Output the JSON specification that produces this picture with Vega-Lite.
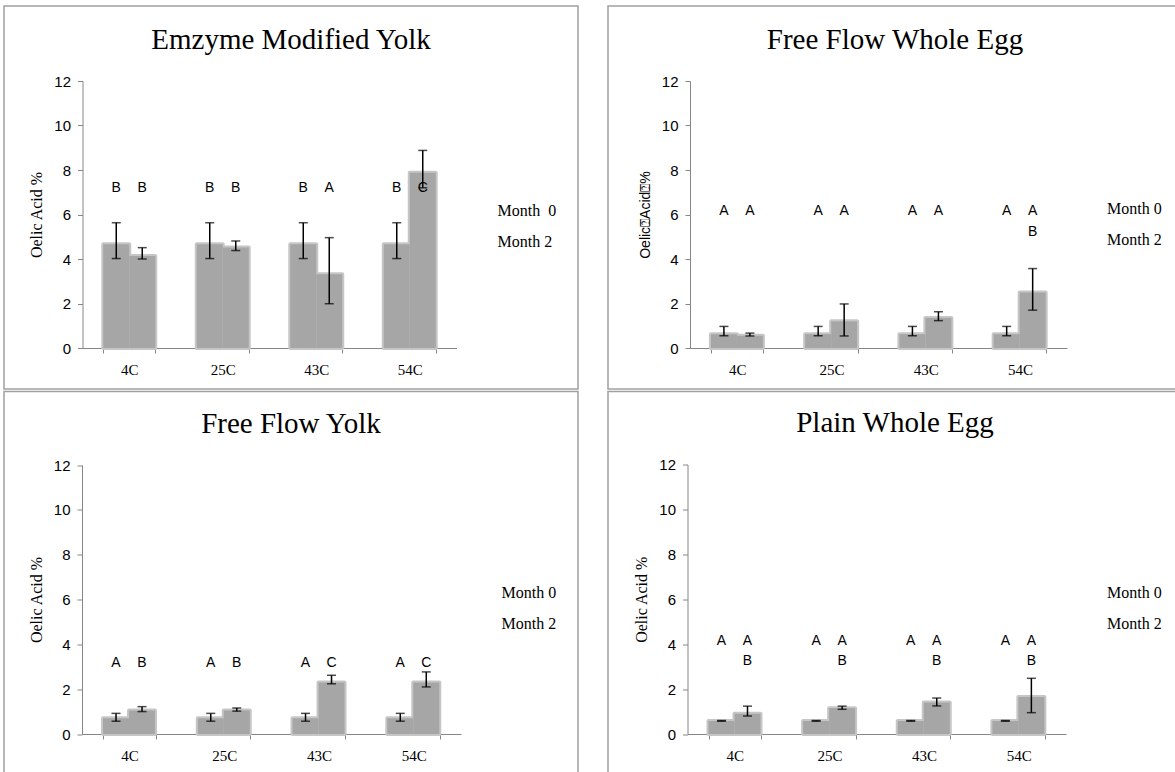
{
  "$schema": "https://vega.github.io/schema/vega-lite/v6.json",
  "padding": {"left": 3, "top": 5, "right": 0, "bottom": 0},
  "background": "white",
  "bounds": "flush",
  "columns": 2,
  "spacing": {"column": 30, "row": 2.5},
  "config": {
    "view": {"stroke": "#a0a0a0", "strokeWidth": 1.5, "fill": "white"},
    "axis": {"grid": false, "domainColor": "#868686", "tickColor": "#868686", "tickSize": 5, "labelColor": "black", "titleColor": "black", "titleFontWeight": "normal", "zindex": 1},
    "axisY": {"labelFont": "Liberation Sans", "labelFontSize": 15, "labelPadding": 7, "titleFont": "Liberation Serif", "titleFontSize": 16, "titlePadding": 9},
    "axisX": {"title": null, "tickBand": "extent", "labelAngle": 0, "labelFont": "Liberation Serif", "labelFontSize": 15, "labelPadding": 9},
    "title": {"font": "Liberation Serif", "fontSize": 29, "fontWeight": "normal", "color": "black", "baseline": "alphabetic", "anchor": "middle", "frame": "group"},
    "legend": {"orient": "none", "title": null, "symbolOpacity": 0, "symbolSize": 1, "symbolStrokeWidth": 0, "labelFont": "Liberation Serif", "labelFontSize": 16, "labelColor": "black", "rowPadding": 15, "labelOffset": 0, "padding": 0},
    "tick": {"color": "black", "size": 9, "thickness": 1.5},
    "rule": {"color": "black", "strokeWidth": 1.5},
    "text": {"font": "Liberation Sans", "fontSize": 14, "baseline": "middle", "align": "center", "color": "black"}
  },
  "resolve": {"scale": {"color": "independent", "x": "independent", "y": "independent"}, "legend": {"color": "independent"}},
  "datasets": {
    "bars": [
      {"panel": "EMY", "temp": "4C", "month": "Month 0", "value": 4.66, "low": 4.02, "high": 5.63},
      {"panel": "EMY", "temp": "4C", "month": "Month 2", "value": 4.13, "low": 4.0, "high": 4.51},
      {"panel": "EMY", "temp": "25C", "month": "Month 0", "value": 4.66, "low": 4.02, "high": 5.63},
      {"panel": "EMY", "temp": "25C", "month": "Month 2", "value": 4.52, "low": 4.38, "high": 4.81},
      {"panel": "EMY", "temp": "43C", "month": "Month 0", "value": 4.66, "low": 4.02, "high": 5.63},
      {"panel": "EMY", "temp": "43C", "month": "Month 2", "value": 3.31, "low": 1.99, "high": 4.96},
      {"panel": "EMY", "temp": "54C", "month": "Month 0", "value": 4.66, "low": 4.02, "high": 5.63},
      {"panel": "EMY", "temp": "54C", "month": "Month 2", "value": 7.88, "low": 7.2, "high": 8.88},
      {"panel": "FFWE", "temp": "4C", "month": "Month 0", "value": 0.62, "low": 0.55, "high": 0.97},
      {"panel": "FFWE", "temp": "4C", "month": "Month 2", "value": 0.55, "low": 0.54, "high": 0.67},
      {"panel": "FFWE", "temp": "25C", "month": "Month 0", "value": 0.62, "low": 0.55, "high": 0.97},
      {"panel": "FFWE", "temp": "25C", "month": "Month 2", "value": 1.2, "low": 0.54, "high": 1.98},
      {"panel": "FFWE", "temp": "43C", "month": "Month 0", "value": 0.62, "low": 0.55, "high": 0.97},
      {"panel": "FFWE", "temp": "43C", "month": "Month 2", "value": 1.35, "low": 1.23, "high": 1.63},
      {"panel": "FFWE", "temp": "54C", "month": "Month 0", "value": 0.62, "low": 0.55, "high": 0.97},
      {"panel": "FFWE", "temp": "54C", "month": "Month 2", "value": 2.5, "low": 1.7, "high": 3.57},
      {"panel": "FFY", "temp": "4C", "month": "Month 0", "value": 0.7, "low": 0.57, "high": 0.92},
      {"panel": "FFY", "temp": "4C", "month": "Month 2", "value": 1.05, "low": 1.0, "high": 1.22},
      {"panel": "FFY", "temp": "25C", "month": "Month 0", "value": 0.7, "low": 0.57, "high": 0.92},
      {"panel": "FFY", "temp": "25C", "month": "Month 2", "value": 1.05, "low": 1.02, "high": 1.16},
      {"panel": "FFY", "temp": "43C", "month": "Month 0", "value": 0.7, "low": 0.57, "high": 0.92},
      {"panel": "FFY", "temp": "43C", "month": "Month 2", "value": 2.3, "low": 2.24, "high": 2.62},
      {"panel": "FFY", "temp": "54C", "month": "Month 0", "value": 0.7, "low": 0.57, "high": 0.92},
      {"panel": "FFY", "temp": "54C", "month": "Month 2", "value": 2.3, "low": 2.1, "high": 2.77},
      {"panel": "PWE", "temp": "4C", "month": "Month 0", "value": 0.58, "low": 0.57, "high": 0.6},
      {"panel": "PWE", "temp": "4C", "month": "Month 2", "value": 0.9, "low": 0.8, "high": 1.24},
      {"panel": "PWE", "temp": "25C", "month": "Month 0", "value": 0.58, "low": 0.57, "high": 0.6},
      {"panel": "PWE", "temp": "25C", "month": "Month 2", "value": 1.15, "low": 1.1, "high": 1.24},
      {"panel": "PWE", "temp": "43C", "month": "Month 0", "value": 0.58, "low": 0.57, "high": 0.6},
      {"panel": "PWE", "temp": "43C", "month": "Month 2", "value": 1.4, "low": 1.25, "high": 1.6},
      {"panel": "PWE", "temp": "54C", "month": "Month 0", "value": 0.58, "low": 0.57, "high": 0.6},
      {"panel": "PWE", "temp": "54C", "month": "Month 2", "value": 1.65, "low": 0.95, "high": 2.48}
    ],
    "letters": [
      {"panel": "EMY", "temp": "4C", "month": "Month 0", "letter": "B", "level": 7.2},
      {"panel": "EMY", "temp": "4C", "month": "Month 2", "letter": "B", "level": 7.2},
      {"panel": "EMY", "temp": "25C", "month": "Month 0", "letter": "B", "level": 7.2},
      {"panel": "EMY", "temp": "25C", "month": "Month 2", "letter": "B", "level": 7.2},
      {"panel": "EMY", "temp": "43C", "month": "Month 0", "letter": "B", "level": 7.2},
      {"panel": "EMY", "temp": "43C", "month": "Month 2", "letter": "A", "level": 7.2},
      {"panel": "EMY", "temp": "54C", "month": "Month 0", "letter": "B", "level": 7.2},
      {"panel": "EMY", "temp": "54C", "month": "Month 2", "letter": "C", "level": 7.2},
      {"panel": "FFWE", "temp": "4C", "month": "Month 0", "letter": "A", "level": 6.16},
      {"panel": "FFWE", "temp": "4C", "month": "Month 2", "letter": "A", "level": 6.16},
      {"panel": "FFWE", "temp": "25C", "month": "Month 0", "letter": "A", "level": 6.16},
      {"panel": "FFWE", "temp": "25C", "month": "Month 2", "letter": "A", "level": 6.16},
      {"panel": "FFWE", "temp": "43C", "month": "Month 0", "letter": "A", "level": 6.16},
      {"panel": "FFWE", "temp": "43C", "month": "Month 2", "letter": "A", "level": 6.16},
      {"panel": "FFWE", "temp": "54C", "month": "Month 0", "letter": "A", "level": 6.16},
      {"panel": "FFWE", "temp": "54C", "month": "Month 2", "letter": "A", "level": 6.16},
      {"panel": "FFWE", "temp": "54C", "month": "Month 2", "letter": "B", "level": 5.22},
      {"panel": "FFY", "temp": "4C", "month": "Month 0", "letter": "A", "level": 3.15},
      {"panel": "FFY", "temp": "4C", "month": "Month 2", "letter": "B", "level": 3.15},
      {"panel": "FFY", "temp": "25C", "month": "Month 0", "letter": "A", "level": 3.15},
      {"panel": "FFY", "temp": "25C", "month": "Month 2", "letter": "B", "level": 3.15},
      {"panel": "FFY", "temp": "43C", "month": "Month 0", "letter": "A", "level": 3.15},
      {"panel": "FFY", "temp": "43C", "month": "Month 2", "letter": "C", "level": 3.15},
      {"panel": "FFY", "temp": "54C", "month": "Month 0", "letter": "A", "level": 3.15},
      {"panel": "FFY", "temp": "54C", "month": "Month 2", "letter": "C", "level": 3.15},
      {"panel": "PWE", "temp": "4C", "month": "Month 0", "letter": "A", "level": 4.16},
      {"panel": "PWE", "temp": "4C", "month": "Month 2", "letter": "A", "level": 4.16},
      {"panel": "PWE", "temp": "4C", "month": "Month 2", "letter": "B", "level": 3.24},
      {"panel": "PWE", "temp": "25C", "month": "Month 0", "letter": "A", "level": 4.16},
      {"panel": "PWE", "temp": "25C", "month": "Month 2", "letter": "A", "level": 4.16},
      {"panel": "PWE", "temp": "25C", "month": "Month 2", "letter": "B", "level": 3.24},
      {"panel": "PWE", "temp": "43C", "month": "Month 0", "letter": "A", "level": 4.16},
      {"panel": "PWE", "temp": "43C", "month": "Month 2", "letter": "A", "level": 4.16},
      {"panel": "PWE", "temp": "43C", "month": "Month 2", "letter": "B", "level": 3.24},
      {"panel": "PWE", "temp": "54C", "month": "Month 0", "letter": "A", "level": 4.16},
      {"panel": "PWE", "temp": "54C", "month": "Month 2", "letter": "A", "level": 4.16},
      {"panel": "PWE", "temp": "54C", "month": "Month 2", "letter": "B", "level": 3.24}
    ]
  },
  "concat": [
    {
      "width": 574, "height": 383,
      "title": {"text": "Emzyme Modified Yolk", "offset": -49},
      "data": {"name": "bars"},
      "transform": [{"filter": "datum.panel == 'EMY'"}],
      "encoding": {
        "x": {"field": "temp", "type": "nominal", "sort": ["4C", "25C", "43C", "54C"], "scale": {"range": [78.5, 452.5], "paddingInner": 0.444, "paddingOuter": 0.222},
              "axis": {"offset": -41}},
        "xOffset": {"field": "month", "type": "nominal", "scale": {"paddingInner": 0, "paddingOuter": 0}}
      },
      "layer": [
        {"mark": {"type": "bar", "color": "#b4b4b4", "stroke": "#c6c6c6", "strokeWidth": 4, "strokeJoin": "round"},
         "encoding": {"y": {"field": "value", "type": "quantitative", "scale": {"domain": [0, 12], "range": [342, 75], "nice": false}, "axis": {"title": "Oelic Acid %", "offset": -78.5, "values": [0, 2, 4, 6, 8, 10, 12]}}}},
        {"mark": {"type": "bar"},
         "encoding": {
           "y": {"field": "value", "type": "quantitative", "axis": {"title": "Oelic Acid %", "offset": -78.5, "values": [0, 2, 4, 6, 8, 10, 12]}},
           "color": {"field": "month", "type": "nominal", "scale": {"range": ["#a6a6a6", "#a6a6a6"]},
                     "legend": {"legendX": 477.5, "legendY": 197, "labelExpr": "datum.label == 'Month 0' ? 'Month\u00a0 0' : datum.label"}}
         }},
        {"mark": {"type": "rule"},
         "encoding": {"y": {"field": "low", "type": "quantitative", "axis": {"title": "Oelic Acid %", "offset": -78.5, "values": [0, 2, 4, 6, 8, 10, 12]}}, "y2": {"field": "high"}}},
        {"mark": {"type": "tick"},
         "encoding": {"y": {"field": "low", "type": "quantitative", "axis": {"title": "Oelic Acid %", "offset": -78.5, "values": [0, 2, 4, 6, 8, 10, 12]}}}},
        {"mark": {"type": "tick"},
         "encoding": {"y": {"field": "high", "type": "quantitative", "axis": {"title": "Oelic Acid %", "offset": -78.5, "values": [0, 2, 4, 6, 8, 10, 12]}}}},
        {"data": {"name": "letters"}, "transform": [{"filter": "datum.panel == 'EMY'"}],
         "mark": {"type": "text"},
         "encoding": {"y": {"field": "level", "type": "quantitative", "axis": {"title": "Oelic Acid %", "offset": -78.5, "values": [0, 2, 4, 6, 8, 10, 12]}}, "text": {"field": "letter"}}}
      ]
    },
    {
      "width": 574, "height": 383,
      "title": {"text": "Free Flow Whole Egg", "offset": -49},
      "data": {"name": "bars"},
      "transform": [{"filter": "datum.panel == 'FFWE'"}],
      "encoding": {
        "x": {"field": "temp", "type": "nominal", "sort": ["4C", "25C", "43C", "54C"], "scale": {"range": [82, 459], "paddingInner": 0.444, "paddingOuter": 0.222},
              "axis": {"offset": -41}},
        "xOffset": {"field": "month", "type": "nominal", "scale": {"paddingInner": 0, "paddingOuter": 0}}
      },
      "layer": [
        {"mark": {"type": "bar", "color": "#b4b4b4", "stroke": "#c6c6c6", "strokeWidth": 4, "strokeJoin": "round"},
         "encoding": {"y": {"field": "value", "type": "quantitative", "scale": {"domain": [0, 12], "range": [342, 75], "nice": false}, "axis": {"title": "Oelic⍰Acid⍰%", "offset": -82, "titleFont": "Liberation Sans", "titleFontSize": 14, "values": [0, 2, 4, 6, 8, 10, 12]}}}},
        {"mark": {"type": "bar"},
         "encoding": {
           "y": {"field": "value", "type": "quantitative", "axis": {"title": "Oelic⍰Acid⍰%", "offset": -82, "titleFont": "Liberation Sans", "titleFontSize": 14, "values": [0, 2, 4, 6, 8, 10, 12]}},
           "color": {"field": "month", "type": "nominal", "scale": {"range": ["#a6a6a6", "#a6a6a6"]},
                     "legend": {"legendX": 483, "legendY": 195}}
         }},
        {"mark": {"type": "rule"},
         "encoding": {"y": {"field": "low", "type": "quantitative", "axis": {"title": "Oelic⍰Acid⍰%", "offset": -82, "titleFont": "Liberation Sans", "titleFontSize": 14, "values": [0, 2, 4, 6, 8, 10, 12]}}, "y2": {"field": "high"}}},
        {"mark": {"type": "tick"},
         "encoding": {"y": {"field": "low", "type": "quantitative", "axis": {"title": "Oelic⍰Acid⍰%", "offset": -82, "titleFont": "Liberation Sans", "titleFontSize": 14, "values": [0, 2, 4, 6, 8, 10, 12]}}}},
        {"mark": {"type": "tick"},
         "encoding": {"y": {"field": "high", "type": "quantitative", "axis": {"title": "Oelic⍰Acid⍰%", "offset": -82, "titleFont": "Liberation Sans", "titleFontSize": 14, "values": [0, 2, 4, 6, 8, 10, 12]}}}},
        {"data": {"name": "letters"}, "transform": [{"filter": "datum.panel == 'FFWE'"}],
         "mark": {"type": "text"},
         "encoding": {"y": {"field": "level", "type": "quantitative", "axis": {"title": "Oelic⍰Acid⍰%", "offset": -82, "titleFont": "Liberation Sans", "titleFontSize": 14, "values": [0, 2, 4, 6, 8, 10, 12]}}, "text": {"field": "letter"}}}
      ]
    },
    {
      "width": 574, "height": 383,
      "title": {"text": "Free Flow Yolk", "offset": -47.5},
      "data": {"name": "bars"},
      "transform": [{"filter": "datum.panel == 'FFY'"}],
      "encoding": {
        "x": {"field": "temp", "type": "nominal", "sort": ["4C", "25C", "43C", "54C"], "scale": {"range": [78, 457], "paddingInner": 0.444, "paddingOuter": 0.222},
              "axis": {"offset": -40.5}},
        "xOffset": {"field": "month", "type": "nominal", "scale": {"paddingInner": 0, "paddingOuter": 0}}
      },
      "layer": [
        {"mark": {"type": "bar", "color": "#b4b4b4", "stroke": "#c6c6c6", "strokeWidth": 4, "strokeJoin": "round"},
         "encoding": {"y": {"field": "value", "type": "quantitative", "scale": {"domain": [0, 12], "range": [342.5, 73.5], "nice": false}, "axis": {"title": "Oelic Acid %", "offset": -78, "values": [0, 2, 4, 6, 8, 10, 12]}}}},
        {"mark": {"type": "bar"},
         "encoding": {
           "y": {"field": "value", "type": "quantitative", "axis": {"title": "Oelic Acid %", "offset": -78, "values": [0, 2, 4, 6, 8, 10, 12]}},
           "color": {"field": "month", "type": "nominal", "scale": {"range": ["#a6a6a6", "#a6a6a6"]},
                     "legend": {"legendX": 481.5, "legendY": 193.5}}
         }},
        {"mark": {"type": "rule"},
         "encoding": {"y": {"field": "low", "type": "quantitative", "axis": {"title": "Oelic Acid %", "offset": -78, "values": [0, 2, 4, 6, 8, 10, 12]}}, "y2": {"field": "high"}}},
        {"mark": {"type": "tick"},
         "encoding": {"y": {"field": "low", "type": "quantitative", "axis": {"title": "Oelic Acid %", "offset": -78, "values": [0, 2, 4, 6, 8, 10, 12]}}}},
        {"mark": {"type": "tick"},
         "encoding": {"y": {"field": "high", "type": "quantitative", "axis": {"title": "Oelic Acid %", "offset": -78, "values": [0, 2, 4, 6, 8, 10, 12]}}}},
        {"data": {"name": "letters"}, "transform": [{"filter": "datum.panel == 'FFY'"}],
         "mark": {"type": "text"},
         "encoding": {"y": {"field": "level", "type": "quantitative", "axis": {"title": "Oelic Acid %", "offset": -78, "values": [0, 2, 4, 6, 8, 10, 12]}}, "text": {"field": "letter"}}}
      ]
    },
    {
      "width": 574, "height": 383,
      "title": {"text": "Plain Whole Egg", "offset": -46.5},
      "data": {"name": "bars"},
      "transform": [{"filter": "datum.panel == 'PWE'"}],
      "encoding": {
        "x": {"field": "temp", "type": "nominal", "sort": ["4C", "25C", "43C", "54C"], "scale": {"range": [79.5, 458], "paddingInner": 0.444, "paddingOuter": 0.222},
              "axis": {"offset": -40.5}},
        "xOffset": {"field": "month", "type": "nominal", "scale": {"paddingInner": 0, "paddingOuter": 0}}
      },
      "layer": [
        {"mark": {"type": "bar", "color": "#b4b4b4", "stroke": "#c6c6c6", "strokeWidth": 4, "strokeJoin": "round"},
         "encoding": {"y": {"field": "value", "type": "quantitative", "scale": {"domain": [0, 12], "range": [342.5, 73], "nice": false}, "axis": {"title": "Oelic Acid %", "offset": -79.5, "values": [0, 2, 4, 6, 8, 10, 12]}}}},
        {"mark": {"type": "bar"},
         "encoding": {
           "y": {"field": "value", "type": "quantitative", "axis": {"title": "Oelic Acid %", "offset": -79.5, "values": [0, 2, 4, 6, 8, 10, 12]}},
           "color": {"field": "month", "type": "nominal", "scale": {"range": ["#a6a6a6", "#a6a6a6"]},
                     "legend": {"legendX": 483, "legendY": 193.5}}
         }},
        {"mark": {"type": "rule"},
         "encoding": {"y": {"field": "low", "type": "quantitative", "axis": {"title": "Oelic Acid %", "offset": -79.5, "values": [0, 2, 4, 6, 8, 10, 12]}}, "y2": {"field": "high"}}},
        {"mark": {"type": "tick"},
         "encoding": {"y": {"field": "low", "type": "quantitative", "axis": {"title": "Oelic Acid %", "offset": -79.5, "values": [0, 2, 4, 6, 8, 10, 12]}}}},
        {"mark": {"type": "tick"},
         "encoding": {"y": {"field": "high", "type": "quantitative", "axis": {"title": "Oelic Acid %", "offset": -79.5, "values": [0, 2, 4, 6, 8, 10, 12]}}}},
        {"data": {"name": "letters"}, "transform": [{"filter": "datum.panel == 'PWE'"}],
         "mark": {"type": "text"},
         "encoding": {"y": {"field": "level", "type": "quantitative", "axis": {"title": "Oelic Acid %", "offset": -79.5, "values": [0, 2, 4, 6, 8, 10, 12]}}, "text": {"field": "letter"}}}
      ]
    }
  ]
}
